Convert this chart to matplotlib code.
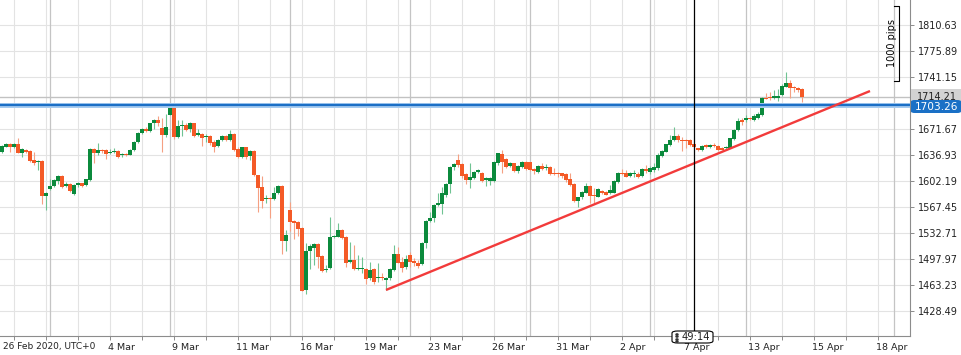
import numpy as np
import matplotlib.pyplot as plt
from matplotlib.patches import Rectangle, FancyBboxPatch
from matplotlib.lines import Line2D
from matplotlib.transforms import blended_transform_factory

# 4H candles, 26 Feb 2020 .. 14 Apr 2020 (open, high, low, close)
opens = [
    1640.3, 1647.9, 1651.5, 1647.0, 1651.5, 1639.9, 1643.4, 1642.1, 1630.1, 1626.9,
    1628.7, 1582.3, 1590.8, 1595.3, 1602.4, 1608.6, 1595.3, 1597.5, 1584.1, 1596.2,
    1598.8, 1596.2, 1603.3, 1644.8, 1638.9, 1643.4, 1643.4, 1638.9, 1640.3, 1642.5,
    1637.2, 1638.5, 1637.2, 1643.4, 1654.1, 1665.7, 1671.5, 1669.3, 1679.1, 1683.6,
    1672.4, 1663.9, 1690.7, 1700.5, 1661.2, 1675.5, 1676.9, 1671.1, 1679.5, 1663.9,
    1665.3, 1660.8, 1662.6, 1654.6, 1648.8, 1656.8, 1662.1, 1656.4, 1665.3, 1644.3,
    1633.6, 1647.0, 1635.8, 1642.5, 1609.5, 1593.5, 1577.4, 1579.2, 1578.3, 1585.5,
    1595.3, 1522.1, 1563.2, 1548.9, 1547.1, 1539.5, 1456.2, 1508.3, 1512.3, 1517.7,
    1502.1, 1482.9, 1485.1, 1526.6, 1527.5, 1536.4, 1527.5, 1493.6, 1496.3, 1484.7,
    1484.7, 1484.2, 1471.8, 1484.2, 1471.8, 1474.0, 1469.5, 1471.8, 1482.9, 1504.3,
    1493.6, 1486.5, 1503.0, 1494.5, 1491.8, 1490.9, 1518.6, 1548.5, 1552.9, 1569.9,
    1570.8, 1583.2, 1597.9, 1620.2, 1630.1, 1624.7, 1610.9, 1603.3, 1606.4, 1613.6,
    1613.1, 1603.3, 1601.9, 1602.4, 1626.5, 1637.6, 1630.9, 1622.5, 1625.6, 1615.8,
    1621.1, 1627.8, 1626.9, 1617.6, 1614.4, 1622.0, 1618.9, 1621.1, 1613.1, 1613.1,
    1612.2, 1611.3, 1604.2, 1597.9, 1575.2, 1580.1, 1586.4, 1595.3, 1583.7, 1581.0,
    1589.0, 1587.7, 1585.5, 1586.4, 1601.1, 1613.1, 1613.1, 1608.7, 1610.9, 1611.3,
    1608.7, 1617.4, 1614.0, 1616.7, 1619.0, 1635.8, 1641.2, 1650.1, 1656.8, 1662.6,
    1657.2, 1656.8, 1656.8, 1651.0, 1645.7, 1643.4, 1649.7, 1647.9, 1650.1, 1649.2,
    1645.7, 1645.7, 1646.6, 1658.1, 1670.2, 1683.6, 1684.0, 1685.8, 1683.1, 1686.7,
    1690.2, 1713.4, 1714.3, 1713.4, 1713.4, 1717.0, 1728.1, 1732.6, 1727.7, 1725.9,
    1724.6,
]
highs = [
    1649.7, 1652.3, 1652.3, 1652.3, 1659.0, 1645.7, 1644.8, 1643.4, 1640.3, 1630.1,
    1629.5, 1587.7, 1605.1, 1604.2, 1610.0, 1609.5, 1601.1, 1598.8, 1597.5, 1600.2,
    1599.7, 1605.1, 1645.7, 1645.7, 1652.3, 1644.3, 1644.3, 1644.3, 1645.7, 1643.4,
    1639.9, 1639.9, 1644.3, 1655.9, 1667.5, 1672.9, 1674.6, 1680.0, 1684.4, 1688.9,
    1685.8, 1691.6, 1701.4, 1701.4, 1683.6, 1683.6, 1679.1, 1680.9, 1680.0, 1671.1,
    1665.7, 1664.8, 1663.5, 1656.8, 1657.7, 1663.5, 1663.5, 1670.2, 1665.7, 1647.9,
    1647.9, 1647.9, 1643.4, 1643.4, 1610.4, 1608.6, 1583.7, 1581.0, 1593.5, 1596.6,
    1596.0, 1536.4, 1574.3, 1549.8, 1548.0, 1540.0, 1518.6, 1517.7, 1519.5, 1518.6,
    1503.0, 1489.6, 1553.4, 1529.7, 1546.2, 1537.3, 1528.4, 1520.8, 1516.3, 1503.0,
    1500.7, 1485.1, 1494.1, 1485.1, 1491.8, 1478.4, 1474.0, 1485.1, 1516.3, 1514.1,
    1500.7, 1503.0, 1507.4, 1498.5, 1496.3, 1520.8, 1549.8, 1560.9, 1571.2, 1585.5,
    1594.4, 1598.8, 1622.0, 1625.6, 1638.1, 1626.5, 1612.2, 1626.5, 1615.8, 1617.6,
    1614.4, 1607.8, 1607.8, 1629.2, 1639.9, 1643.4, 1632.3, 1626.9, 1626.5, 1623.4,
    1629.2, 1629.2, 1627.8, 1618.9, 1623.4, 1625.6, 1624.7, 1622.0, 1618.9, 1614.4,
    1613.1, 1612.2, 1612.2, 1598.8, 1581.0, 1589.0, 1599.7, 1596.6, 1592.2, 1592.2,
    1589.9, 1589.0, 1596.6, 1603.3, 1614.4, 1617.6, 1616.7, 1614.4, 1616.7, 1614.4,
    1618.9, 1623.4, 1622.0, 1626.0, 1639.0, 1643.4, 1651.9, 1663.5, 1674.6, 1664.4,
    1661.2, 1658.1, 1658.1, 1651.9, 1646.6, 1650.1, 1651.0, 1651.9, 1652.3, 1650.1,
    1647.9, 1649.2, 1659.9, 1671.5, 1686.7, 1685.8, 1690.2, 1688.0, 1691.1, 1694.7,
    1714.3, 1719.2, 1720.6, 1723.7, 1725.0, 1731.3, 1747.3, 1737.1, 1729.5, 1727.7,
    1725.9,
]
lows = [
    1638.9, 1647.0, 1640.3, 1646.1, 1638.9, 1634.5, 1638.9, 1627.4, 1623.4, 1616.7,
    1571.2, 1563.2, 1589.9, 1593.5, 1597.9, 1592.2, 1593.5, 1587.7, 1583.2, 1594.4,
    1593.5, 1595.3, 1602.4, 1625.6, 1636.7, 1638.9, 1631.4, 1637.6, 1638.9, 1633.2,
    1634.5, 1635.4, 1636.3, 1642.5, 1653.2, 1664.4, 1667.9, 1667.9, 1671.1, 1676.0,
    1641.2, 1661.2, 1690.2, 1657.7, 1659.0, 1662.1, 1669.3, 1667.9, 1661.2, 1662.1,
    1648.8, 1654.6, 1650.1, 1641.2, 1647.0, 1655.9, 1655.5, 1655.5, 1642.5, 1633.2,
    1632.3, 1630.9, 1630.1, 1608.6, 1561.0, 1565.4, 1572.1, 1552.0, 1576.5, 1584.1,
    1504.3, 1508.8, 1535.5, 1523.9, 1528.4, 1454.4, 1450.8, 1483.8, 1489.6, 1485.1,
    1480.7, 1480.7, 1484.2, 1525.3, 1526.6, 1524.8, 1487.4, 1491.8, 1482.9, 1482.9,
    1478.4, 1464.2, 1469.5, 1464.2, 1467.3, 1469.5, 1456.2, 1469.5, 1481.6, 1491.8,
    1480.7, 1484.7, 1487.4, 1488.3, 1485.6, 1489.6, 1511.9, 1547.6, 1547.6, 1568.5,
    1557.4, 1581.0, 1585.5, 1616.7, 1621.1, 1605.5, 1597.5, 1592.1, 1604.2, 1612.2,
    1600.2, 1595.3, 1596.6, 1601.1, 1623.4, 1612.2, 1618.9, 1620.2, 1614.4, 1612.2,
    1618.9, 1616.7, 1615.8, 1611.3, 1613.1, 1616.7, 1616.7, 1610.0, 1610.0, 1606.9,
    1605.5, 1601.1, 1595.3, 1574.3, 1566.7, 1578.3, 1585.5, 1572.1, 1571.2, 1580.1,
    1584.6, 1582.8, 1584.6, 1585.5, 1599.7, 1610.0, 1606.9, 1606.9, 1607.8, 1605.5,
    1606.9, 1612.7, 1611.3, 1614.0, 1617.0, 1634.5, 1640.3, 1649.2, 1655.5, 1654.6,
    1642.1, 1645.7, 1648.8, 1645.7, 1642.1, 1642.1, 1645.7, 1646.6, 1647.4, 1642.1,
    1643.0, 1643.4, 1645.7, 1656.8, 1668.8, 1676.9, 1681.3, 1683.6, 1682.2, 1684.9,
    1689.3, 1711.2, 1710.3, 1711.2, 1709.0, 1716.1, 1727.3, 1712.5, 1720.6, 1721.5,
    1707.2,
]
closes = [
    1648.8, 1651.5, 1647.0, 1651.5, 1639.9, 1644.3, 1640.7, 1628.7, 1626.5, 1628.7,
    1581.9, 1585.9, 1595.3, 1603.3, 1608.6, 1594.4, 1597.5, 1589.0, 1596.6, 1598.8,
    1595.3, 1604.2, 1644.8, 1639.9, 1643.4, 1642.1, 1638.5, 1640.7, 1642.5, 1634.5,
    1638.5, 1637.2, 1643.4, 1654.6, 1666.6, 1671.1, 1669.3, 1679.1, 1683.6, 1680.0,
    1663.9, 1673.7, 1700.5, 1661.2, 1675.5, 1677.3, 1670.2, 1680.0, 1662.6, 1665.7,
    1659.9, 1662.6, 1653.2, 1647.9, 1656.8, 1662.1, 1656.4, 1664.8, 1643.4, 1634.5,
    1647.0, 1634.5, 1642.1, 1609.5, 1593.0, 1575.6, 1579.2, 1577.9, 1585.5, 1595.3,
    1522.1, 1529.7, 1547.6, 1546.2, 1538.2, 1455.3, 1508.3, 1515.4, 1517.7, 1500.7,
    1482.0, 1484.7, 1527.5, 1528.8, 1536.4, 1526.2, 1492.7, 1496.3, 1484.2, 1486.0,
    1486.0, 1470.4, 1482.9, 1467.3, 1474.0, 1471.8, 1471.8, 1483.8, 1504.3, 1492.7,
    1485.1, 1497.2, 1494.1, 1491.8, 1488.3, 1519.5, 1548.5, 1552.0, 1569.9, 1572.1,
    1585.5, 1597.9, 1621.1, 1624.7, 1622.9, 1609.1, 1603.3, 1606.9, 1614.5, 1616.7,
    1601.9, 1605.5, 1605.5, 1627.8, 1639.0, 1627.8, 1621.1, 1625.6, 1615.3, 1622.0,
    1627.8, 1617.6, 1616.7, 1615.3, 1622.0, 1618.5, 1621.1, 1611.3, 1611.3, 1611.3,
    1608.7, 1603.3, 1596.6, 1575.6, 1580.1, 1587.7, 1595.3, 1581.9, 1581.9, 1590.8,
    1586.4, 1583.7, 1589.9, 1602.4, 1613.1, 1611.8, 1607.8, 1612.2, 1612.2, 1606.9,
    1617.6, 1615.3, 1619.3, 1620.3, 1636.7, 1642.1, 1651.0, 1656.8, 1662.6, 1656.8,
    1655.5, 1655.5, 1650.1, 1647.0, 1643.4, 1648.8, 1647.9, 1650.1, 1648.3, 1643.4,
    1643.9, 1647.9, 1659.0, 1670.2, 1682.2, 1681.3, 1685.8, 1684.4, 1689.3, 1691.1,
    1713.4, 1712.1, 1712.5, 1715.2, 1715.7, 1729.5, 1732.6, 1726.8, 1725.9, 1723.7,
    1714.2,
]

price_ticks = [1428.49, 1463.23, 1497.97, 1532.71, 1567.45, 1602.19, 1636.93,
               1671.67, 1741.15, 1775.89, 1810.63]
date_labels = ["4 Mar", "9 Mar", "11 Mar", "16 Mar", "19 Mar", "23 Mar", "26 Mar",
               "31 Mar", "2 Apr", "7 Apr", "13 Apr", "15 Apr", "18 Apr"]
date_label_idx = [27, 43, 59, 75, 91, 107, 123, 139, 155, 171, 187, 203, 219]
week_start_idx = [12, 42, 72, 102, 132, 162, 186, 223]
last_price = 1714.21
hline_price = 1703.26
trend_x = [96, 217]
trend_y = [1456.2, 1722.3]
cursor_idx = 173

W, H = 962, 355
fig = plt.figure(figsize=(W / 100, H / 100), dpi=100)
ax = fig.add_axes([0, 19 / H, 910 / W, 336 / H])
ax.set_xlim(-0.5, 227)
ax.set_ylim(1394.63, 1844.07)

# grid
for p in price_ticks:
    ax.axhline(p, color="#e3e3e3", lw=0.8, zorder=0)
minor_x = np.arange(3, 227, 8)
for xv in minor_x:
    ax.axvline(xv, color="#e3e3e3", lw=0.8, zorder=0)
for xv in week_start_idx:
    ax.axvline(xv, color="#c4c4c4", lw=0.9, zorder=0)

# candles
o, h, l, c = map(np.array, (opens, highs, lows, closes))
x = np.arange(len(o))
up = c >= o
body_col = np.where(up, "#0b8a3c", "#f45a27")
wick_col = np.where(up, "#6fc392", "#f5a082")
ax.vlines(x, l, h, colors=wick_col, lw=0.8, zorder=3)
ax.bar(x, np.maximum(np.abs(c - o), 1.2), bottom=np.minimum(o, c), width=0.8,
       color=body_col, lw=0, zorder=4)

# price lines / drawings
ax.axhline(last_price, color="#c2c2c2", lw=1.0, zorder=2)
ax.axhline(hline_price, color="#a6cbef", lw=3.6, zorder=5)
ax.axhline(hline_price, color="#1b6fc6", lw=1.6, zorder=6)
ax.plot(trend_x, trend_y, color="#f23b3b", lw=1.7, zorder=7, solid_capstyle="butt")
ax.axvline(cursor_idx, ymin=0.016, color="black", lw=0.9, zorder=8)

# 1000 pips ruler
ax.plot([223, 224.25, 224.25, 223], [1836.1, 1836.1, 1736.1, 1736.1],
        color="black", lw=0.8, zorder=8)
ax.text(222.4, 1786, "1000 pips", rotation=90, ha="center", va="center",
        fontsize=7, zorder=8)

# axes styling
for s in ("top", "left"):
    ax.spines[s].set_visible(False)
for s in ("bottom", "right"):
    ax.spines[s].set_color("#8c8c8c")
    ax.spines[s].set_linewidth(0.8)
ax.yaxis.tick_right()
ax.set_yticks(price_ticks)
ax.set_yticklabels([f"{p:.2f}" for p in price_ticks])
ax.tick_params(axis="y", length=3, width=0.7, color="#8c8c8c", pad=3,
               labelsize=7, labelcolor="#222222")
ax.set_xticks(minor_x)
ax.set_xticklabels([])
ax.tick_params(axis="x", length=3, width=0.7, color="#8c8c8c")

bt = blended_transform_factory(ax.transData, ax.transAxes)
ax.text(0.25, -11 / 336, "26 Feb 2020, UTC+0", transform=bt, ha="left",
        va="center", fontsize=6.5, color="#222222", clip_on=False)
for xi, lab in zip(date_label_idx, date_labels):
    ax.text(xi - 0.6, -11 / 336, lab, transform=bt, ha="left", va="center",
            fontsize=6.8, color="#222222", clip_on=False)


def fx(px):
    return px / W


def fy(py):
    return 1 - py / H


# price labels on the right axis
fig.add_artist(Rectangle((fx(911), fy(104)), fx(962) - fx(911), fy(89) - fy(104),
                         transform=fig.transFigure, fc="#d3d3d3", ec="none", zorder=5))
fig.text(fx(917), fy(97.5), f"{last_price:.2f}", ha="left", va="center",
         fontsize=7, color="#222222", zorder=6)
fig.add_artist(FancyBboxPatch((fx(911), fy(113)), fx(961) - fx(911), fy(100) - fy(113),
                              boxstyle="round,pad=0,rounding_size=0.004",
                              transform=fig.transFigure, fc="#1a70c6", ec="none",
                              zorder=7))
fig.text(fx(915), fy(106.5), f"{hline_price:.2f}", ha="left", va="center",
         fontsize=7.6, color="white", zorder=8)

# countdown box on the cursor
fig.add_artist(FancyBboxPatch((fx(672), fy(343)), fx(713) - fx(672), fy(331) - fy(343),
                              boxstyle="round,pad=0,rounding_size=0.006",
                              transform=fig.transFigure, fc="white", ec="black",
                              lw=0.8, zorder=7))
for gx in (675.5, 677.5):
    fig.add_artist(Line2D([fx(gx)] * 4, [fy(333.5), fy(336), fy(338.5), fy(341)],
                          transform=fig.transFigure, ls="none", marker="s",
                          ms=0.7, color="#333333", zorder=8))
fig.text(fx(696), fy(337), "49:14", ha="center", va="center", fontsize=7.2,
         color="#222222", zorder=8)

fig.savefig("out.png", dpi=100)
